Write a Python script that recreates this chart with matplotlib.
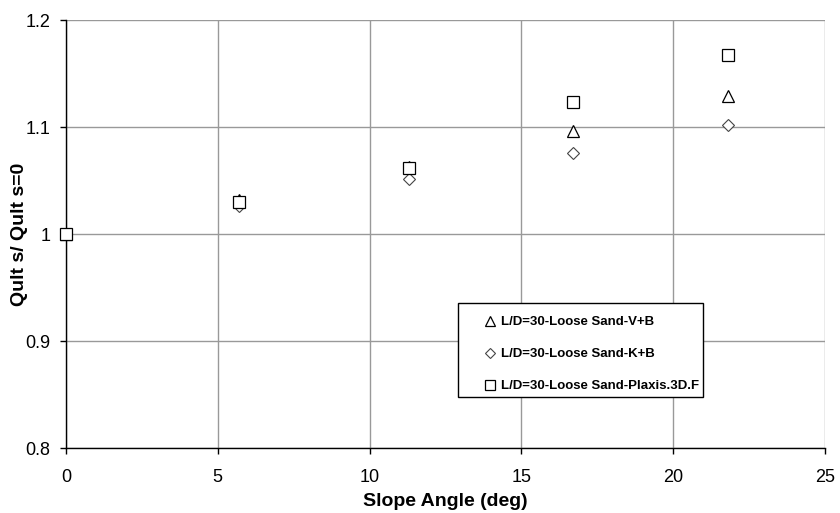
import matplotlib
matplotlib.use("Agg")
import matplotlib.pyplot as plt
from matplotlib.patches import Rectangle

plt.rcParams['font.family'] = ['Liberation Sans', 'DejaVu Sans']

# slope angles (deg)
angle = [0.0, 5.71, 11.31, 16.7, 21.8]
# Qult s / Qult s=0
vb = [1.0, 1.032, 1.063, 1.096, 1.129]
kb = [1.0, 1.026, 1.051, 1.076, 1.102]
plaxis = [1.0, 1.030, 1.062, 1.123, 1.167]

labels = ["L/D=30-Loose Sand-V+B",
          "L/D=30-Loose Sand-K+B",
          "L/D=30-Loose Sand-Plaxis.3D.F"]

fig = plt.figure(figsize=(8.4, 5.13), dpi=100)
ax = fig.add_axes([0.0786, 0.1267, 0.9034, 0.8343])

ax.plot(angle, vb, linestyle='none', marker='^', markersize=9,
        markerfacecolor='white', markeredgecolor='black', markeredgewidth=0.9,
        label=labels[0], clip_on=False, zorder=3)
ax.plot(angle, kb, linestyle='none', marker='D', markersize=6.6,
        markerfacecolor='white', markeredgecolor='#444444', markeredgewidth=0.8,
        label=labels[1], clip_on=False, zorder=3)
ax.plot(angle, plaxis, linestyle='none', marker='s', markersize=8.6,
        markerfacecolor='white', markeredgecolor='black', markeredgewidth=0.9,
        label=labels[2], clip_on=False, zorder=4)

ax.set_xlim(0, 25)
ax.set_ylim(0.8, 1.2)
ax.set_xticks([0, 5, 10, 15, 20, 25])
ax.set_yticks([0.8, 0.9, 1.0, 1.1, 1.2])
ax.set_yticklabels(["0.8", "0.9", "1", "1.1", "1.2"])
ax.grid(True, color='#999999', linewidth=1.0)
ax.set_axisbelow(True)

for s in ['top', 'right']:
    ax.spines[s].set_visible(False)
for s in ['left', 'bottom']:
    ax.spines[s].set_color('black')
    ax.spines[s].set_linewidth(1.0)
    ax.spines[s].set_zorder(2.5)

ax.tick_params(direction='out', length=4.3, width=1, labelsize=13)
ax.tick_params(axis='x', pad=11)
ax.tick_params(axis='y', pad=7)
ax.set_xlabel("Slope Angle (deg)", fontsize=14, fontweight='bold', labelpad=5)
ax.set_ylabel("Qult s/ Qult s=0", fontsize=14, fontweight='bold', labelpad=-2)

# legend box
ax.add_patch(Rectangle((0.5165, 0.119), 0.3228, 0.2196, transform=ax.transAxes,
                       facecolor='white', edgecolor='black', linewidth=1.0,
                       zorder=5))
leg = ax.legend(loc='upper left', bbox_to_anchor=(0.5517, 0.308),
                frameon=False, prop={'size': 9.5, 'weight': 'bold'},
                handletextpad=0.4, handlelength=0.8, labelspacing=1.5,
                borderpad=0, markerscale=0.8, borderaxespad=0)
leg.set_zorder(6)

fig.savefig("out.png", dpi=100)
